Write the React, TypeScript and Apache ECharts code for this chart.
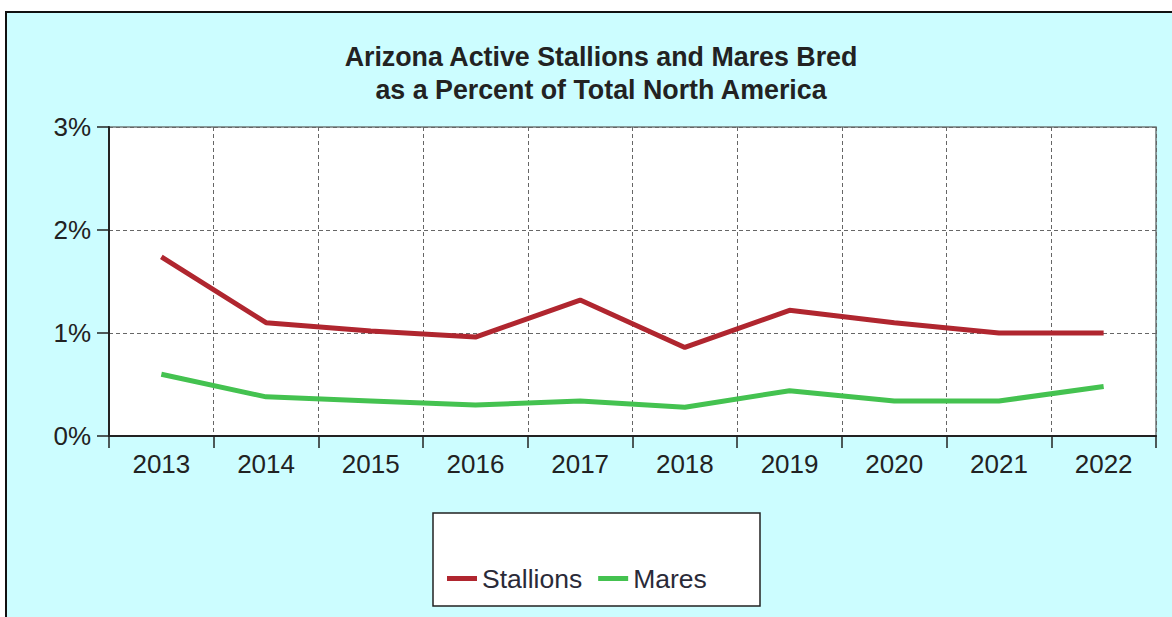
import React, { useEffect, useRef } from "react";
import * as echarts from "echarts";

const years = ["2013", "2014", "2015", "2016", "2017", "2018", "2019", "2020", "2021", "2022"];
const stallions = [1.74, 1.1, 1.02, 0.96, 1.32, 0.86, 1.22, 1.1, 1.0, 1.0];
const mares = [0.6, 0.38, 0.34, 0.3, 0.34, 0.28, 0.44, 0.34, 0.34, 0.48];
const titleLines = ["Arizona Active Stallions and Mares Bred", "as a Percent of Total North America"];

export default function App() {
  const ref = useRef<HTMLDivElement>(null);
  useEffect(() => {
    if (!ref.current) return;
    const chart = echarts.init(ref.current, null, { renderer: "svg" });
    const font = "'Liberation Sans', Arial, sans-serif";
    chart.setOption({
      animation: false,
      backgroundColor: "#ffffff",
      textStyle: { fontFamily: font },
      title: {
        text: titleLines.join("\n"),
        left: 596,
        textAlign: "center",
        top: 35,
        textStyle: { fontSize: 26.8, fontWeight: "bold", color: "#222", lineHeight: 33, fontFamily: font },
      },
      graphic: [
        {
          type: "rect",
          z: -10,
          shape: { x: 6, y: 12, width: 1200, height: 650 },
          style: { fill: "#ccfdff", stroke: "#111", lineWidth: 2 },
        },
        {
          type: "rect",
          z: 1,
          shape: { x: 433, y: 513, width: 327, height: 93 },
          style: { fill: "#ffffff", stroke: "#222", lineWidth: 1.5 },
        },
      ],
      legend: {
        left: 442,
        top: 560,
        z: 10,
        icon: "rect",
        itemWidth: 30,
        itemHeight: 5,
        itemGap: 16,
        textStyle: { fontSize: 26.5, color: "#2a2a38", fontFamily: font },
        data: ["Stallions", "Mares"],
      },
      grid: {
        left: 109,
        top: 127,
        right: 16,
        bottom: 181,
        show: true,
        backgroundColor: "#ffffff",
        borderColor: "#6f7a7a",
        borderWidth: 1.5,
      },
      xAxis: {
        type: "category",
        data: years,
        boundaryGap: true,
        axisLine: { lineStyle: { color: "#222", width: 2 } },
        axisTick: { show: true, length: 12, lineStyle: { color: "#222", width: 1.5 } },
        axisLabel: { fontSize: 26, color: "#222", margin: 15, fontFamily: font },
        splitLine: { show: true, lineStyle: { color: "#666", type: [4, 3], width: 1 } },
      },
      yAxis: {
        type: "value",
        min: 0,
        max: 3,
        interval: 1,
        axisLine: { show: true, lineStyle: { color: "#222", width: 2 } },
        axisTick: { show: true, length: 12, lineStyle: { color: "#222", width: 1.5 } },
        axisLabel: { fontSize: 26, color: "#222", margin: 18, formatter: "{value}%", fontFamily: font },
        splitLine: { show: true, lineStyle: { color: "#666", type: [4, 3], width: 1 } },
      },
      series: [
        {
          name: "Stallions",
          type: "line",
          data: stallions,
          symbol: "none",
          color: "#b0262f",
          lineStyle: { width: 5, color: "#b0262f" },
        },
        {
          name: "Mares",
          type: "line",
          data: mares,
          symbol: "none",
          color: "#44c250",
          lineStyle: { width: 5, color: "#44c250" },
        },
      ],
    });
    return () => chart.dispose();
  }, []);
  return (
    <div
      ref={ref}
      style={{ position: "fixed", left: 0, top: 0, width: 1172, height: 617 }}
    />
  );
}
